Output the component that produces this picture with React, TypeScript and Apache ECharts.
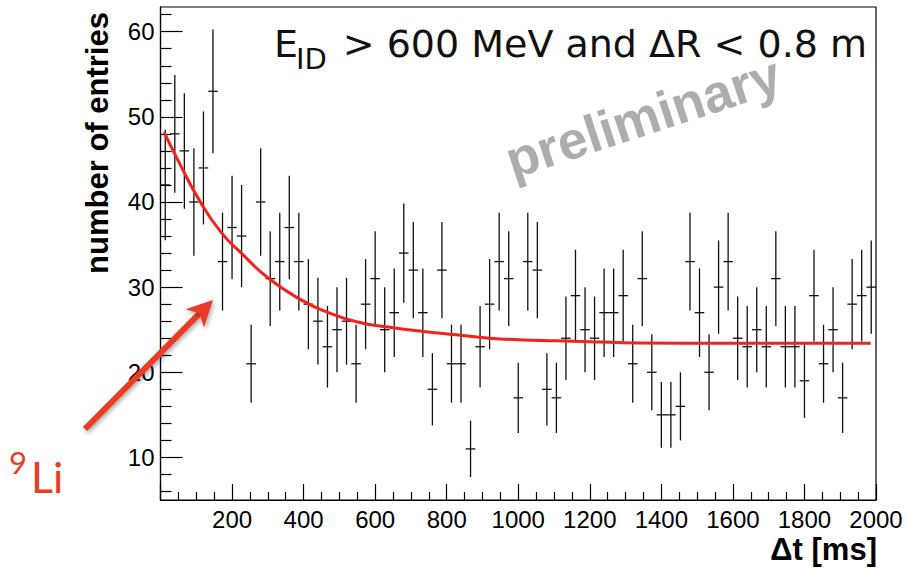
import React, { useEffect, useRef } from "react";
import * as echarts from "echarts";

// ---- data ----
const X_MIN = 0;
const X_MAX = 2000;
const BIN_COUNT = 75;
const BIN_WIDTH = (X_MAX - X_MIN) / BIN_COUNT;

const counts = [
  42, 48, 46, 40, 44, 53, 33, 37, 36, 21,
  40, 31, 33, 37, 33, 28, 26, 23, 25, 26,
  21, 28, 31, 25, 27, 34, 32, 27, 18, 32,
  21, 21, 11, 23, 28, 33, 31, 17, 33, 32,
  18, 17, 24, 29, 25, 24, 27, 27, 29, 21,
  31, 20, 15, 15, 16, 33, 27, 20, 30, 33,
  24, 23, 25, 23, 31, 23, 23, 19, 29, 21,
  25, 17, 28, 29, 30,
];

const fitTimes = [10, 50, 110, 170, 226, 300, 393, 458, 551, 640, 734, 827, 920, 1013, 1106, 1198, 1338, 1600, 1985];
const fitValues = [48.2, 44.8, 40.1, 36.4, 34.0, 31.1, 28.5, 27.2, 25.9, 25.3, 24.8, 24.4, 24.0, 23.8, 23.7, 23.6, 23.45, 23.4, 23.4];

const yMajorTicks = [10, 20, 30, 40, 50, 60];
const yMinorTicks = [6, 8, 12, 14, 16, 18, 22, 24, 26, 28, 32, 34, 36, 38, 42, 44, 46, 48, 52, 54, 56, 58, 62];
const Y_MIN = 5;
const Y_MAX = 62.9;

export default function App() {
  const ref = useRef<HTMLDivElement>(null);

  useEffect(() => {
    if (!ref.current) return;
    const chart = echarts.init(ref.current, undefined, { renderer: "svg" });

    const histData = counts.map((c, i) => [X_MIN + (i + 0.5) * BIN_WIDTH, c, Math.sqrt(c)]);
    const fitData = fitTimes.map((t, i) => [t, fitValues[i]]);

    const tickFont = '"Liberation Sans", Arial, Helvetica, sans-serif';
    const annFont = '"DejaVu Sans", "Open Sans", sans-serif';
    const liFont = 'Lato, "Open Sans", sans-serif';

    // arrow geometry (annotation)
    const tail = [85, 429];
    const tip = [213, 300];
    const dx = tip[0] - tail[0];
    const dy = tip[1] - tail[1];
    const len = Math.sqrt(dx * dx + dy * dy);
    const ux = dx / len, uy = dy / len;
    const nx = -uy, ny = ux;
    const headLen = 26, headHalf = 13, notch = 19;
    const back = [tip[0] - ux * headLen, tip[1] - uy * headLen];
    const notchP = [tip[0] - ux * notch, tip[1] - uy * notch];
    const arrowColor = "#ea3b28";
    const shadow = { shadowBlur: 4, shadowColor: "rgba(0,0,0,0.35)", shadowOffsetX: 1.5, shadowOffsetY: 2 };

    chart.setOption({
      animation: false,
      backgroundColor: "#ffffff",
      grid: {
        left: 160.5,
        right: 32,
        top: 7,
        bottom: 70,
        show: true,
        borderColor: "#000",
        borderWidth: 1.2,
        backgroundColor: "transparent",
      },
      xAxis: {
        type: "value",
        min: X_MIN,
        max: X_MAX,
        interval: 200,
        axisLine: { show: true, lineStyle: { color: "#000", width: 1.2 } },
        axisTick: { show: true, inside: true, length: 16, lineStyle: { color: "#000", width: 1.2 } },
        minorTick: { show: true, splitNumber: 4, length: 8, lineStyle: { color: "#000", width: 1.2 } },
        splitLine: { show: false },
        minorSplitLine: { show: false },
        axisLabel: {
          showMinLabel: false,
          fontSize: 24,
          color: "#000",
          fontFamily: tickFont,
          margin: 7,
          formatter: (v: number) => String(v),
        },
      },
      yAxis: [
        {
          type: "value",
          min: Y_MIN,
          max: Y_MAX,
          position: "left",
          axisLine: { show: true, lineStyle: { color: "#000", width: 1.2 } },
          axisTick: {
            show: true,
            inside: true,
            length: 22,
            customValues: yMajorTicks,
            lineStyle: { color: "#000", width: 1.2 },
          },
          axisLabel: {
            customValues: yMajorTicks,
            fontSize: 24,
            color: "#000",
            fontFamily: tickFont,
            margin: 6,
            formatter: (v: number) => String(v),
          },
          splitLine: { show: false },
        },
        {
          type: "value",
          min: Y_MIN,
          max: Y_MAX,
          position: "left",
          offset: 0,
          axisLine: { show: false },
          axisTick: {
            show: true,
            inside: true,
            length: 11,
            customValues: yMinorTicks,
            lineStyle: { color: "#000", width: 1.2 },
          },
          axisLabel: { show: false },
          splitLine: { show: false },
        },
      ],
      series: [
        {
          type: "custom",
          name: "data",
          xAxisIndex: 0,
          yAxisIndex: 0,
          data: histData,
          clip: true,
          renderItem: (params: any, api: any) => {
            const x = api.value(0);
            const y = api.value(1);
            const e = api.value(2);
            const pL = api.coord([x - BIN_WIDTH / 2, y]);
            const pR = api.coord([x + BIN_WIDTH / 2, y]);
            const pT = api.coord([x, y + e]);
            const pB = api.coord([x, y - e]);
            const st = { stroke: "#111", lineWidth: 1.3 };
            return {
              type: "group",
              children: [
                { type: "line", shape: { x1: pT[0], y1: pT[1], x2: pB[0], y2: pB[1] }, style: st },
                { type: "line", shape: { x1: pL[0], y1: pL[1], x2: pR[0], y2: pR[1] }, style: st },
              ],
            };
          },
          z: 3,
        },
        {
          type: "line",
          name: "fit",
          data: fitData,
          smooth: true,
          showSymbol: false,
          lineStyle: { color: "#f2231b", width: 3 },
          z: 4,
        },
      ],
      graphic: [
        {
          type: "text",
          x: 97,
          y: 143,
          rotation: Math.PI / 2,
          style: {
            text: "number of entries",
            font: 'bold 31px "Liberation Sans", Arial, sans-serif',
            fill: "#000",
            textAlign: "center",
            textVerticalAlign: "middle",
          },
        },
        {
          type: "text",
          x: 877,
          y: 549,
          style: {
            text: "Δt [ms]",
            font: 'bold 31px "Liberation Sans", Arial, sans-serif',
            fill: "#000",
            textAlign: "right",
            textVerticalAlign: "middle",
          },
        },
        {
          type: "text",
          x: 643,
          y: 117,
          rotation: 0.316,
          z: 1,
          style: {
            text: "preliminary",
            font: 'bold 53px "Liberation Sans", Arial, sans-serif',
            fill: "#adadad",
            textAlign: "center",
            textVerticalAlign: "middle",
          },
        },
        {
          type: "text",
          x: 274,
          y: 43.5,
          z: 10,
          style: {
            text: "E",
            font: "38px " + annFont,
            fill: "#111",
            textAlign: "left",
            textVerticalAlign: "middle",
          },
        },
        {
          type: "text",
          x: 296,
          y: 59,
          z: 10,
          style: {
            text: "ID",
            font: "29px " + annFont,
            fill: "#111",
            textAlign: "left",
            textVerticalAlign: "middle",
          },
        },
        {
          type: "text",
          x: 867,
          y: 43.5,
          z: 10,
          style: {
            text: "> 600 MeV and ΔR < 0.8 m",
            font: "38px " + annFont,
            fill: "#111",
            textAlign: "right",
            textVerticalAlign: "middle",
          },
        },
        {
          type: "text",
          x: 9,
          y: 462,
          z: 10,
          style: {
            text: "9",
            font: "31px " + liFont,
            fill: arrowColor,
            textAlign: "left",
            textVerticalAlign: "middle",
          },
        },
        {
          type: "text",
          x: 31,
          y: 476,
          z: 10,
          style: {
            text: "Li",
            font: "43px " + liFont,
            fill: arrowColor,
            textAlign: "left",
            textVerticalAlign: "middle",
          },
        },
        {
          type: "line",
          z: 10,
          shape: { x1: tail[0], y1: tail[1], x2: notchP[0], y2: notchP[1] },
          style: { stroke: arrowColor, lineWidth: 6, lineCap: "butt", ...shadow },
        },
        {
          type: "polygon",
          z: 10,
          shape: {
            points: [
              [tip[0], tip[1]],
              [back[0] + nx * headHalf, back[1] + ny * headHalf],
              [notchP[0], notchP[1]],
              [back[0] - nx * headHalf, back[1] - ny * headHalf],
            ],
          },
          style: { fill: arrowColor, ...shadow },
        },
      ],
    });

    return () => {
      chart.dispose();
    };
  }, []);

  return (
    <div
      ref={ref}
      style={{ position: "fixed", left: 0, top: 0, width: 908, height: 570, background: "#fff" }}
    />
  );
}
